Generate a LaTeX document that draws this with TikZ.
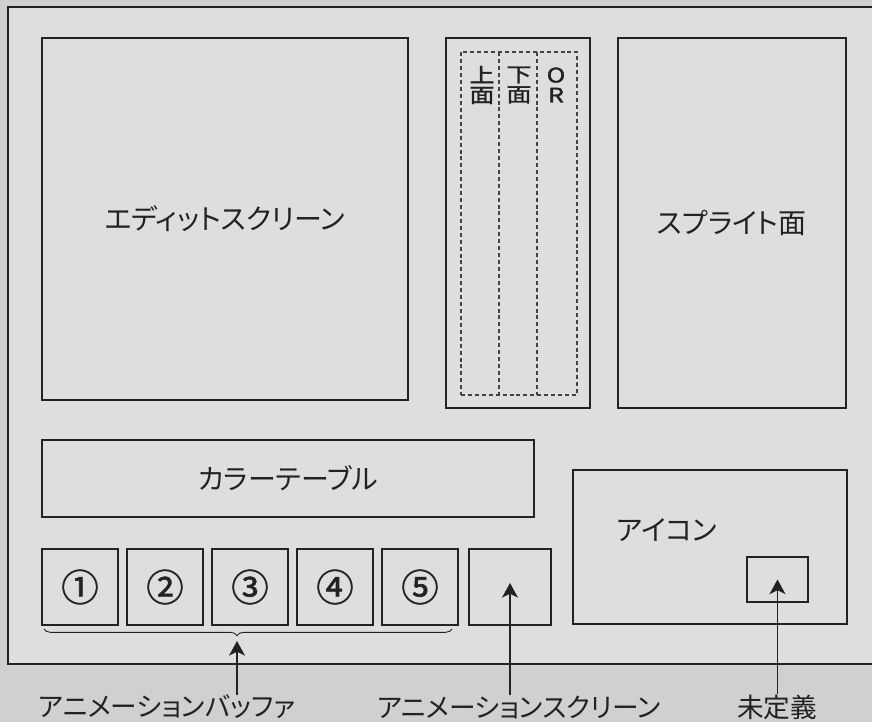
\documentclass[tikz,border=0pt]{standalone}
\usepackage{fontspec}
\newfontfamily\jpfont[RawFeature=+palt]{Noto Sans CJK JP}
\newfontfamily\jpbold[RawFeature=+palt, FakeBold=1.6]{Noto Sans CJK JP}
\usetikzlibrary{positioning, arrows.meta, decorations.pathreplacing}
\definecolor{paper}{RGB}{222,222,222}
\definecolor{outer}{RGB}{208,208,208}
\definecolor{ink}{RGB}{34,34,34}
\newcommand{\widechar}[1]{\scalebox{1.25}[1]{#1}}

\begin{document}
\begin{tikzpicture}[x=0.75pt, y=-0.75pt,
    box/.style={draw=ink, line width=0.9pt, rectangle, inner sep=0pt, outer sep=0pt, text=ink, font=\jpfont\fontsize{21}{24}\selectfont},
    dashbox/.style={draw=ink!85, line width=0.8pt, dash pattern=on 3pt off 2.2pt, rectangle, inner sep=0pt, outer sep=0pt},
    dashline/.style={draw=ink!85, line width=0.8pt, dash pattern=on 3pt off 2.2pt},
    vtext/.style={align=center, text=ink, inner sep=0pt, font=\jpbold\fontsize{15}{15}\selectfont},
    bufbox/.style={box, minimum width=57pt, minimum height=57pt, font=\jpbold\fontsize{28}{30}\selectfont},
    caption/.style={text=ink, inner sep=0pt, font=\jpfont\fontsize{20}{22}\selectfont},
    arrow/.style={-{Stealth[length=11pt, width=12pt, inset=3pt]}, draw=ink, line width=1pt},
    brace/.style={draw=ink, line width=0.7pt, decorate, decoration={brace, mirror, amplitude=5pt, aspect=0.473}}
  ]
  % Background and frame
  \useasboundingbox (0,0) rectangle (872,722);
  \clip (0,0) rectangle (872,722);
  \fill[outer] (0,0) rectangle (872,722);
  \fill[paper] (8,7) rectangle (880,664);
  \draw[ink, line width=2.2pt] (880,7) -| (8,664) -- (880,664);

  % Nodes
  \node (edit) [box, minimum width=274.5pt, minimum height=271.5pt] at (225,219) {エディットスクリーン};
  \node (layers) [box, minimum width=108pt, minimum height=277.5pt] at (518,223) {};
  \node (stack) [dashbox, minimum width=87pt, minimum height=257.25pt] at (519,223.5) {};
  \draw [dashline] ([xshift=28.5pt]stack.north west) -- ([xshift=28.5pt]stack.south west);
  \draw [dashline] ([xshift=57pt]stack.north west) -- ([xshift=57pt]stack.south west);
  \node (upperTxt) [vtext] at (482,85) {\widechar{上}\\\widechar{面}};
  \node (lowerTxt) [vtext] at (519,85) {\widechar{下}\\\widechar{面}};
  \node (orTxt) [vtext] at (556,85) {\widechar{O}\\\widechar{R}};
  \node (sprite) [box, minimum width=171pt, minimum height=277.5pt] at (732,223) {スプライト面};
  \node (colortable) [box, minimum width=369pt, minimum height=57.75pt] at (288,478.5) {カラーテーブル};

  \node (buf1) [bufbox] at (80,587) {①};
  \node (buf2) [bufbox, right=6.75pt of buf1] {②};
  \node (buf3) [bufbox, right=6.75pt of buf2] {③};
  \node (buf4) [bufbox, right=6.75pt of buf3] {④};
  \node (buf5) [bufbox, right=6.75pt of buf4] {⑤};
  \node (animscr) [box, minimum width=61.5pt, minimum height=57pt, right=8.25pt of buf5] {};

  \node (icon) [box, minimum width=205.5pt, minimum height=115.5pt] at (710,547) {};
  \node (undef) [box, minimum width=45.75pt, minimum height=33.75pt] at (777.5,579.5) {};
  \node (iconTxt) [text=ink, inner sep=0pt, font=\jpfont\fontsize{21}{24}\selectfont] at (667,530) {アイコン};

  % Brace under the buffers
  \coordinate (braceL) at (44,629);
  \coordinate (braceR) at (452,629);
  \coordinate (braceTip) at (237,641);
  \draw[brace] (braceL) -- (braceR);

  % Captions
  \node (bufLabel) [caption] at (167,707) {アニメーションバッファ};
  \node (animLabel) [caption] at (519,707) {アニメーションスクリーン};
  \node (undefLabel) [caption] at (777,707) {未定義};

  % Arrows
  \draw [arrow] (bufLabel.north -| braceTip) -- (braceTip);
  \draw [arrow] (animLabel.north -| animscr.center) -- ([yshift=3pt]animscr.center);
  \draw [arrow] (undefLabel.north -| undef.center) -- (undef.center);
\end{tikzpicture}
\end{document}
